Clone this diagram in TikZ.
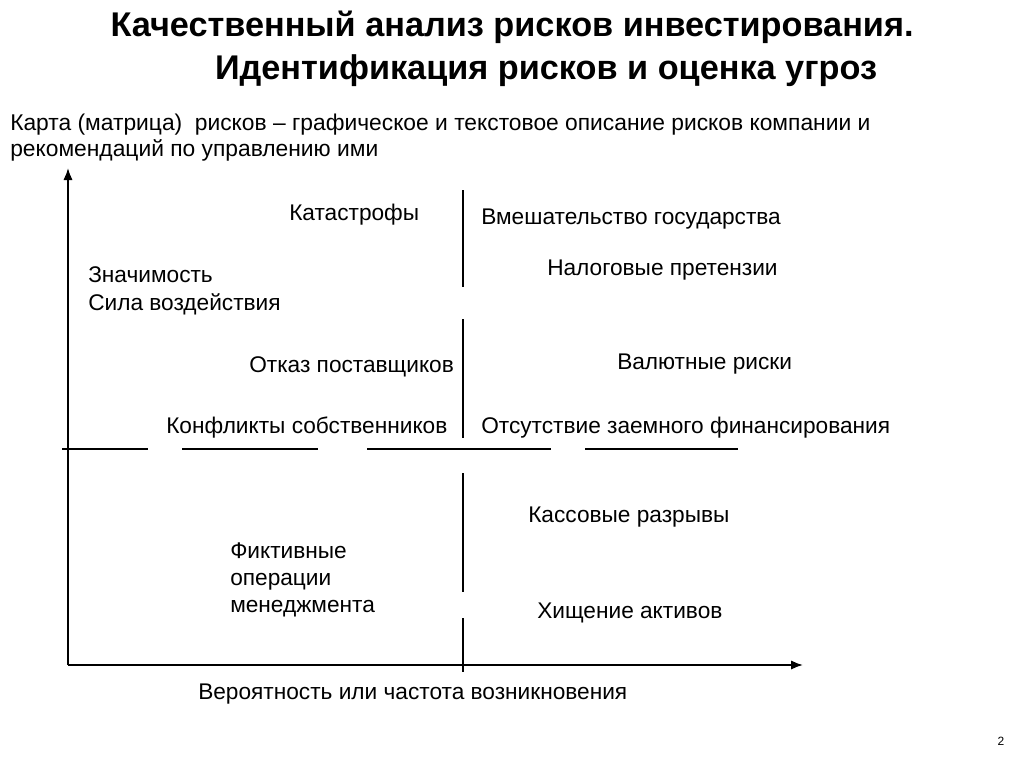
\documentclass[tikz,border=0pt]{standalone}
\usepackage{fontspec}
\setmainfont{Liberation Sans}
\usetikzlibrary{arrows.meta}
\begin{document}
\begin{tikzpicture}[x=0.75pt,y=-0.75pt,
  titletext/.style={inner sep=0pt,font=\fontsize{25.7}{32}\selectfont\bfseries},
  bodytext/.style={inner sep=0pt,anchor=base west,align=left,font=\fontsize{17}{20.5}\selectfont},
  axis/.style={line width=1.3pt,-{Latex[length=9pt,width=7pt]}},
  sep/.style={line width=0.8pt}]
\useasboundingbox[fill=white] (0,0) rectangle (1024,768);
% title
\node[titletext,anchor=base] (t1) at (512,36) {Качественный анализ рисков инвестирования.};
\node[titletext,anchor=base] (t2) at (546,79) {Идентификация рисков и оценка угроз};
\node[bodytext,font=\fontsize{17.1}{20.5}\selectfont] (intro1) at (10,130) {Карта (матрица)\ \ рисков – графическое и текстовое описание рисков компании и};
\node[bodytext,font=\fontsize{17.1}{20.5}\selectfont] (intro2) at (10,156) {рекомендаций по управлению ими};
% axes
\coordinate (O) at (68,665);
\coordinate (ytip) at (68,168);
\coordinate (xtip) at (803,665);
\draw[axis] (O) -- (ytip);
\draw[axis] (O) -- (xtip);
% separators
\draw[sep] (62,449) -- (148,449);
\draw[sep] (182,449) -- (318,449);
\draw[sep] (367,449) -- (551,449);
\draw[sep] (585,449) -- (738,449);
\draw[sep] (463,190) -- (463,287);
\draw[sep] (463,319) -- (463,438);
\draw[sep] (463,473) -- (463,592);
\draw[sep] (463,618) -- (463,672);
% labels
\node[bodytext] (kat) at (289,220) {Катастрофы};
\node[bodytext] (vmesh) at (481,224) {Вмешательство государства};
\node[bodytext] (nalog) at (547,275) {Налоговые претензии};
\node[bodytext] (znach) at (88,310) {Значимость\\Сила воздействия};
\node[bodytext] (otkaz) at (249,372) {Отказ поставщиков};
\node[bodytext] (val) at (617,369) {Валютные риски};
\node[bodytext] (konf) at (166,433) {Конфликты собственников};
\node[bodytext] (otsut) at (481,433) {Отсутствие заемного финансирования};
\node[bodytext] (kass) at (528,522) {Кассовые разрывы};
\node[bodytext,font=\fontsize{17}{20}\selectfont] (fikt) at (230,612) {Фиктивные\\операции\\менеджмента};
\node[bodytext] (hish) at (537,618) {Хищение активов};
\node[bodytext] (ver) at (198,699) {Вероятность или частота возникновения};
\node[inner sep=0pt,anchor=base,font=\fontsize{9}{11}\selectfont] (pg) at (1001,745) {2};
\end{tikzpicture}
\end{document}
